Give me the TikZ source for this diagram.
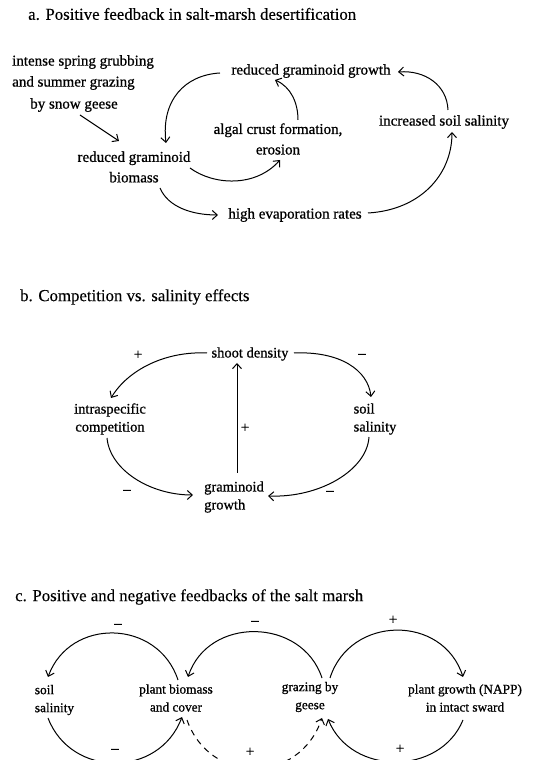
\documentclass[tikz,border=0pt]{standalone}
\usepackage{fontspec}
\setmainfont{Liberation Serif}[FakeBold=0.8]
\newfontfamily\ttlfont{Liberation Serif}[FakeBold=0.25]
\usetikzlibrary{arrows.meta}
\begin{document}
\begin{tikzpicture}[x=1pt,y=1pt,
  ttl/.style={inner sep=0pt, anchor=west, font=\ttlfont\fontsize{16.8}{20}\selectfont},
  la/.style={inner sep=0pt, align=center, font=\fontsize{15}{20.5}\selectfont},
  lb/.style={inner sep=0pt, align=center, font=\fontsize{14.5}{18}\selectfont},
  lc/.style={inner sep=0pt, align=center, font=\fontsize{13.3}{18}\selectfont},
  sgn/.style={inner sep=0pt, font=\fontsize{15}{16}\selectfont},
  conn/.style={line width=1pt, -{Straight Barb[length=5pt,width=9pt,line width=1pt]}},
  dconn/.style={conn, dash pattern=on 6pt off 5pt}]
\useasboundingbox (0,0) rectangle (540,760);
\clip (0,0) rectangle (540,760);
\fill[white] (0,0) rectangle (540,760);

% ---------- part a ----------
\node[ttl] (ta) at (28,746) {a. Positive feedback in salt-marsh desertification};
\node[la, anchor=west] (g1) at (12,698) {intense spring grubbing};
\node[la, anchor=west] (g2) at (12,677) {and summer grazing};
\node[la] (g3) at (74,655) {by snow geese};
\node[la] (bio) at (134,593) {reduced graminoid\\biomass};
\node[la] (rgg) at (311,689) {reduced graminoid growth};
\node[la] (alg) at (278,621) {algal crust formation,\\erosion};
\node[la] (sal) at (444,638) {increased soil salinity};
\node[la] (eva) at (295,545) {high evaporation rates};

\draw[conn] ([shift={(6,-10)}]g3.center) -- ([shift={(-15,26)}]bio.center);
\draw[conn] ([shift={(-91,-2)}]rgg.center) .. controls (185,685) and (161,660) .. ([shift={(32,24)}]bio.center);
\draw[conn] ([shift={(20,19)}]alg.center) .. controls (298,657) and (291,673) .. ([shift={(-36,-9)}]rgg.center);
\draw[conn] ([shift={(56,-1)}]bio.center) .. controls (213,575) and (255,572) .. ([shift={(2,-21)}]alg.center);
\draw[conn] ([shift={(26,-21)}]bio.center) .. controls (168,553) and (192,545) .. ([shift={(-77,0)}]eva.center);
\draw[conn] ([shift={(73,2)}]eva.center) .. controls (420,550) and (452,585) .. ([shift={(8,-10)}]sal.center);
\draw[conn] ([shift={(4,12)}]sal.center) .. controls (447,675) and (425,690) .. ([shift={(87,-1)}]rgg.center);

% ---------- part b ----------
\node[ttl] (tb) at (20,463) {b. Competition vs. salinity effects};
\node[lb] (sd) at (250,406) {shoot density};
\node[lb] (ic) at (110,341) {intraspecific\\competition};
\node[lb, align=left] (ss) at (375,341) {soil\\salinity};
\node[lb, align=left] (gg) at (234,263) {graminoid\\growth};

\draw[conn] ([shift={(-43,1)}]sd.center) .. controls (165,409) and (128,390) .. ([shift={(1,21)}]ic.center);
\draw[conn] ([shift={(44,1)}]sd.center) .. controls (340,409) and (368,390) .. ([shift={(-4,22)}]ss.center);
\draw[conn] ([shift={(3,24)}]gg.center) -- ([shift={(-13,-9)}]sd.center);
\draw[conn] ([shift={(-3,-19)}]ic.center) .. controls (110,290) and (150,265) .. ([shift={(-41,2)}]gg.center);
\draw[conn] ([shift={(-6,-18)}]ss.center) .. controls (367,290) and (320,262) .. ([shift={(34,1)}]gg.center);
\node[sgn] (b1) at (138,405) {+};
\node[sgn] (b2) at (362,404) {–};
\node[sgn] (b3) at (245,332) {+};
\node[sgn] (b4) at (127,268) {–};
\node[sgn] (b5) at (330,267) {–};

% ---------- part c ----------
\node[ttl] (tc) at (15,163) {c. Positive and negative feedbacks of the salt marsh};
\node[lc, align=left] (soilc) at (54.5,60) {soil\\salinity};
\node[lc] (pbio) at (176,62) {plant biomass\\and cover};
\node[lc] (graz) at (310,63) {grazing by\\geese};
\node[lc] (pgr) at (465,62) {plant growth (NAPP)\\in intact sward};

\draw[conn] ([shift={(2,18)}]pbio.center) .. controls (158,141) and (70,143) .. ([shift={(-6.5,23)}]soilc.center);
\draw[conn] ([shift={(12,19)}]graz.center) .. controls (302,143) and (208,144) .. ([shift={(12,21)}]pbio.center);
\draw[conn] ([shift={(20,19)}]graz.center) .. controls (350,145) and (443,146) .. ([shift={(-2,21)}]pgr.center);
\draw[conn] ([shift={(-6.5,-18)}]soilc.center) .. controls (71,-18) and (159,-18) .. ([shift={(6,-19)}]pbio.center);
\draw[dconn] ([shift={(11,-22)}]pbio.center) .. controls (210,-25) and (299,-25) .. ([shift={(12,-21)}]graz.center);
\draw[conn] ([shift={(-2,-22)}]pgr.center) .. controls (440,-16) and (351,-16) .. ([shift={(18,-22)}]graz.center);
\node[sgn] (c1) at (118,134) {–};
\node[sgn] (c2) at (255,137) {–};
\node[sgn] (c3) at (393,140) {+};
\node[sgn] (c4) at (115,9) {–};
\node[sgn] (c5) at (250,8) {+};
\node[sgn] (c6) at (400,11) {+};
\end{tikzpicture}
\end{document}
